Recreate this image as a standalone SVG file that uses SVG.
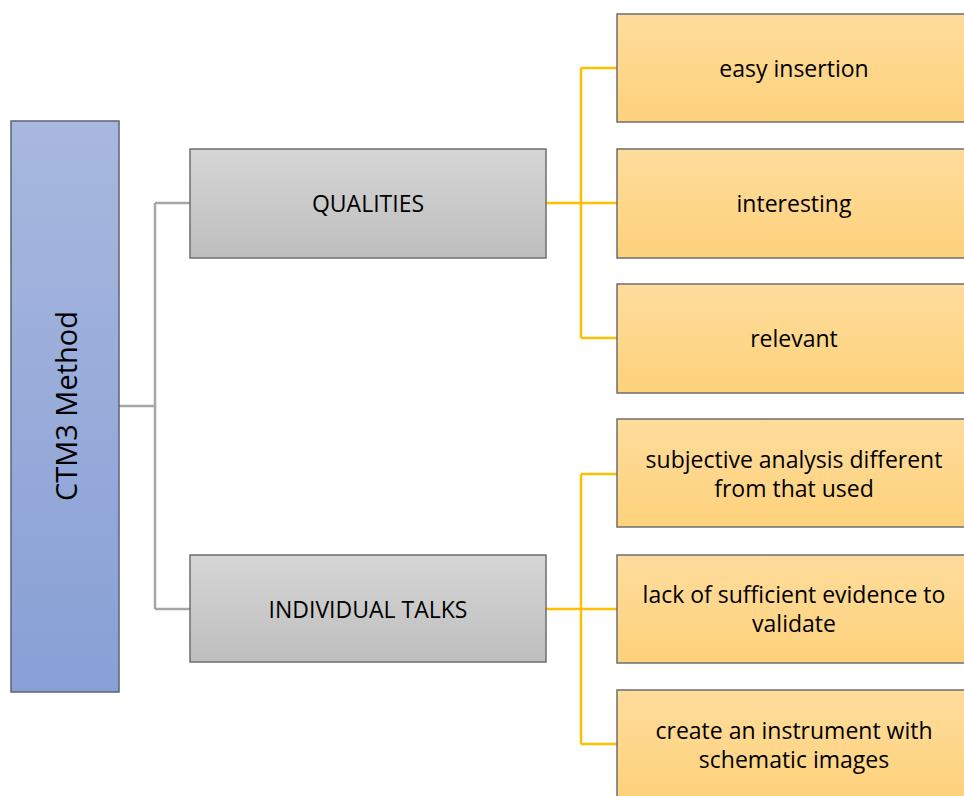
<svg xmlns="http://www.w3.org/2000/svg" width="964" height="796" viewBox="0 0 964 796">
<defs>
<linearGradient id="gb" x1="0" y1="0" x2="0" y2="1"><stop offset="0" stop-color="#a8b8de"/><stop offset="1" stop-color="#88a0d6"/></linearGradient>
<linearGradient id="gg" x1="0" y1="0" x2="0" y2="1"><stop offset="0" stop-color="#d6d6d6"/><stop offset="1" stop-color="#bebebe"/></linearGradient>
<linearGradient id="go" x1="0" y1="0" x2="0" y2="1"><stop offset="0" stop-color="#fedc9c"/><stop offset="1" stop-color="#fed27c"/></linearGradient>
<style>
.t{font-family:"Open Sans","Liberation Sans",sans-serif;font-size:23px;fill:#000;text-anchor:middle;dominant-baseline:central}
.b{fill:url(#gb);stroke:#5b6475;stroke-width:1.5}
.g{fill:url(#gg);stroke:#6e6e6e;stroke-width:1.5}
.o{fill:url(#go);stroke:#6e6e6e;stroke-width:1.5}
.cg{fill:none;stroke:#a6a6a6;stroke-width:2.5}
.co{fill:none;stroke:#ffc000;stroke-width:2.5}
</style>
</defs>
<rect width="964" height="796" fill="#fff"/>
<g id="connectors">
<path class="cg" d="M119 406H155M155 203V609M155 203H190M155 609H190"/>
<path class="co" d="M546 203H617M581 68V338M581 68H617M581 338H617"/>
<path class="co" d="M546 609H617M581 474V744M581 474H617M581 744H617"/>
</g>
<g id="root"><rect class="b" x="11" y="121" width="108" height="571"/><text class="t" style="font-size:29px" transform="translate(65 406) rotate(-90)">CTM3 Method</text></g>
<g id="qualities"><rect class="g" x="190" y="149" width="356" height="109"/><text class="t" x="368" y="203">QUALITIES</text></g>
<g id="talks"><rect class="g" x="190" y="555" width="356" height="107"/><text class="t" x="368" y="609">INDIVIDUAL TALKS</text></g>
<g id="n1"><rect class="o" x="617" y="14" width="352" height="108"/><text class="t" x="794" y="68">easy insertion</text></g>
<g id="n2"><rect class="o" x="617" y="149" width="352" height="109"/><text class="t" x="794" y="203">interesting</text></g>
<g id="n3"><rect class="o" x="617" y="284" width="352" height="109"/><text class="t" x="794" y="338">relevant</text></g>
<g id="n4"><rect class="o" x="617" y="419" width="352" height="108"/><text class="t" x="794" y="459">subjective analysis different</text><text class="t" x="794" y="488">from that used</text></g>
<g id="n5"><rect class="o" x="617" y="555" width="352" height="108"/><text class="t" x="794" y="594">lack of sufficient evidence to</text><text class="t" x="794" y="623">validate</text></g>
<g id="n6"><rect class="o" x="617" y="690" width="352" height="110"/><text class="t" x="794" y="730">create an instrument with</text><text class="t" x="794" y="759">schematic images</text></g>
</svg>
